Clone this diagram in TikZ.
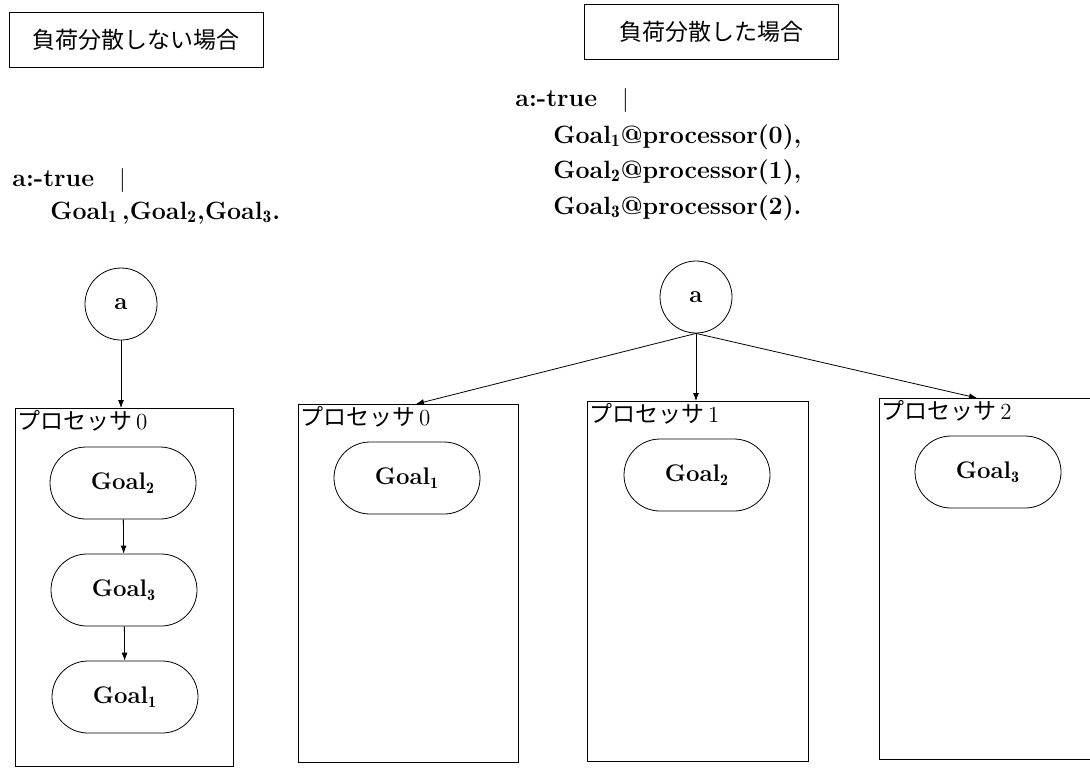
\documentclass[tikz,border=0pt]{standalone}
\usepackage{fontspec}
\newfontfamily\jp{Noto Sans CJK JP}
\usetikzlibrary{arrows.meta,positioning,shapes.misc}
\tikzset{
  titlebox/.style={draw, thin, minimum width=127pt, minimum height=27.5pt, font=\jp\fontsize{11.5}{13}\selectfont},
  code/.style={anchor=west, inner sep=0pt, font=\fontsize{12.5}{15}\selectfont\bfseries},
  callnode/.style={draw, thin, circle, minimum size=36pt, inner sep=0pt, font=\fontsize{12}{14}\selectfont\bfseries},
  procbox/.style={draw, thin, anchor=north west, inner sep=0pt},
  plabel/.style={anchor=north west, inner sep=1pt, font=\fontsize{11.5}{13}\selectfont},
  goal/.style={draw, thin, rounded rectangle, minimum width=73pt, minimum height=36pt, inner sep=0pt, font=\fontsize{12}{14}\selectfont\bfseries},
  conn/.style={thin, -{Latex[length=4pt,width=3pt]}}
}
\newcommand{\gl}[1]{Goal$_{\mathbf{#1}}$}

\begin{document}
\begin{tikzpicture}[x=0.5pt, y=-0.5pt]
  \useasboundingbox (0,0) rectangle (1090,767);
  \clip (0,0) rectangle (1090,767);

  % without load balancing
  \node[titlebox] (t1) at (136,40) {負荷分散しない場合};
  \node[code] (c1a) at (12,180) {a:-true\quad$|$};
  \node[code] (c1b) at (50,213) {\gl{1}\,,\gl{2},\gl{3}.};

  \node[callnode] (a1) at (121,304) {a};
  \node[procbox, minimum width=109pt, minimum height=179pt] (b0) at (15,408) {};
  \node[plabel] (l0) at (b0.north west) {{\jp プロセッサ}\,0};
  \node[goal] (g2) at (123,483) {\gl{2}};
  \node[goal] (g3) at (124,590) {\gl{3}};
  \node[goal] (g1) at (125,697) {\gl{1}};
  \draw[conn] (a1) -- (a1 |- b0.north);
  \draw[conn] (g2) -- (g3);
  \draw[conn] (g3) -- (g1);

  % with load balancing
  \node[titlebox] (t2) at (711,32) {負荷分散した場合};
  \node[code] (c2a) at (515,100) {a:-true\quad$|$};
  \node[code] (c2b) at (553,137) {\gl{1}@processor(0),};
  \node[code] (c2c) at (553,172) {\gl{2}@processor(1),};
  \node[code] (c2d) at (553,208) {\gl{3}@processor(2).};

  \node[callnode] (a2) at (696,297) {a};
  \node[procbox, minimum width=110pt, minimum height=179pt] (q0) at (298,404) {};
  \node[procbox, minimum width=110.5pt, minimum height=180pt] (q1) at (587,401) {};
  \node[procbox, minimum width=110.5pt, minimum height=180.5pt] (q2) at (879,398) {};
  \node[plabel] (m0) at (q0.north west) {{\jp プロセッサ}\,0};
  \node[plabel] (m1) at (q1.north west) {{\jp プロセッサ}\,1};
  \node[plabel] (m2) at (q2.north west) {{\jp プロセッサ}\,2};
  \node[goal] (h1) at (407,478) {\gl{1}};
  \node[goal] (h2) at (697,475) {\gl{2}};
  \node[goal] (h3) at (988,472) {\gl{3}};
  \coordinate (e0) at (416,404);
  \coordinate (e2) at (977,398);
  \draw[conn] (a2.south) -- (e0);
  \draw[conn] (a2.south) -- (a2.south |- q1.north);
  \draw[conn] (a2.south) -- (e2);
\end{tikzpicture}
\end{document}
